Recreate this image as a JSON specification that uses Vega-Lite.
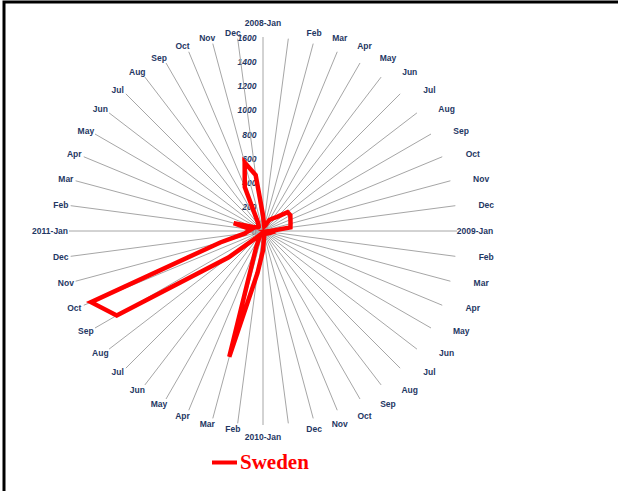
{
  "$schema": "https://vega.github.io/schema/vega-lite/v6.json",
  "width": 614,
  "height": 489,
  "autosize": {"type": "none"},
  "padding": {"left": 4, "top": 2, "right": 0, "bottom": 0},
  "background": "white",
  "config": {
    "view": {"stroke": "black", "strokeWidth": 3, "strokeDash": [614, 1103, 489, 1]},
    "axisY": {"domain": false, "ticks": false, "tickSize": 0, "grid": false, "labelPadding": 0, "offset": -252, "labelFont": "Liberation Sans", "labelFontStyle": "italic", "labelFontWeight": "bold", "labelFontSize": 8.5, "labelColor": "#1f3864", "labelBaseline": "middle", "title": null, "format": "d", "zindex": 1},
    "text": {"font": "Liberation Sans", "fontWeight": "bold", "fontSize": 8.5, "color": "#1f3864", "baseline": "middle"}
  },
  "data": {
    "values": [
      {"m": "2008-Jan", "i": 0, "v": 130},
      {"m": "Feb", "i": 1, "v": 60},
      {"m": "Mar", "i": 2, "v": 40},
      {"m": "Apr", "i": 3, "v": 50},
      {"m": "May", "i": 4, "v": 105},
      {"m": "Jun", "i": 5, "v": 130},
      {"m": "Jul", "i": 6, "v": 165},
      {"m": "Aug", "i": 7, "v": 255},
      {"m": "Sep", "i": 8, "v": 260},
      {"m": "Oct", "i": 9, "v": 245},
      {"m": "Nov", "i": 10, "v": 235},
      {"m": "Dec", "i": 11, "v": 228},
      {"m": "2009-Jan", "i": 12, "v": 60},
      {"m": "Feb", "i": 13, "v": 30},
      {"m": "Mar", "i": 14, "v": 60},
      {"m": "Apr", "i": 15, "v": 50},
      {"m": "May", "i": 16, "v": 40},
      {"m": "Jun", "i": 17, "v": 30},
      {"m": "Jul", "i": 18, "v": 30},
      {"m": "Aug", "i": 19, "v": 20},
      {"m": "Sep", "i": 20, "v": 20},
      {"m": "Oct", "i": 21, "v": 30},
      {"m": "Nov", "i": 22, "v": 40},
      {"m": "Dec", "i": 23, "v": 60},
      {"m": "2010-Jan", "i": 24, "v": 160},
      {"m": "Feb", "i": 25, "v": 350},
      {"m": "Mar", "i": 26, "v": 1075},
      {"m": "Apr", "i": 27, "v": 150},
      {"m": "May", "i": 28, "v": 60},
      {"m": "Jun", "i": 29, "v": 40},
      {"m": "Jul", "i": 30, "v": 80},
      {"m": "Aug", "i": 31, "v": 360},
      {"m": "Sep", "i": 32, "v": 1393},
      {"m": "Oct", "i": 33, "v": 1535},
      {"m": "Nov", "i": 34, "v": 365},
      {"m": "Dec", "i": 35, "v": 150},
      {"m": "2011-Jan", "i": 36, "v": 120},
      {"m": "Feb", "i": 37, "v": 100},
      {"m": "Mar", "i": 38, "v": 250},
      {"m": "Apr", "i": 39, "v": 80},
      {"m": "May", "i": 40, "v": 60},
      {"m": "Jun", "i": 41, "v": 50},
      {"m": "Jul", "i": 42, "v": 50},
      {"m": "Aug", "i": 43, "v": 60},
      {"m": "Sep", "i": 44, "v": 90},
      {"m": "Oct", "i": 45, "v": 393},
      {"m": "Nov", "i": 46, "v": 585},
      {"m": "Dec", "i": 47, "v": 465}
    ]
  },
  "transform": [
    {"calculate": "datum.i * PI / 24", "as": "a"},
    {"calculate": "datum.v * sin(datum.a)", "as": "x"},
    {"calculate": "datum.v * cos(datum.a)", "as": "y"},
    {"calculate": "1600 * sin(datum.a)", "as": "sx"},
    {"calculate": "1600 * cos(datum.a)", "as": "sy"},
    {"calculate": "1649 * sin(datum.a)", "as": "lx"},
    {"calculate": "1649 * cos(datum.a)", "as": "ly"}
  ],
  "layer": [
    {
      "mark": {"type": "rule", "color": "#a6a6a6", "strokeWidth": 1},
      "encoding": {
        "x": {"field": "sx", "type": "quantitative", "scale": {"domain": [-2136.1, 2927.8], "nice": false, "zero": false}, "axis": null},
        "y": {"field": "sy", "type": "quantitative", "scale": {"domain": [-2144.3, 1888.7], "nice": false, "zero": false},
              "axis": {"title": null, "values": [0, 200, 400, 600, 800, 1000, 1200, 1400, 1600]}},
        "x2": {"datum": 0},
        "y2": {"datum": 0}
      }
    },
    {
      "mark": {"type": "line", "interpolate": "linear-closed", "strokeWidth": 4.5, "strokeJoin": "miter"},
      "encoding": {
        "x": {"field": "x", "type": "quantitative", "axis": null},
        "y": {"field": "y", "type": "quantitative", "axis": {"title": null, "values": [0, 200, 400, 600, 800, 1000, 1200, 1400, 1600]}},
        "order": {"field": "i", "type": "quantitative"},
        "color": {"datum": "Sweden", "scale": {"range": ["#ff0000"]},
                  "legend": {"orient": "none", "legendX": 206, "legendY": 446, "title": null, "symbolType": "stroke", "symbolStrokeWidth": 4, "symbolSize": 625, "labelFont": "Liberation Serif", "labelFontWeight": "bold", "labelFontSize": 21, "labelColor": "#ff0000", "labelOffset": 1, "padding": 0}}
      }
    },
    {
      "transform": [{"filter": "datum.i > 0 && datum.i < 24 && datum.i != 12"}],
      "mark": {"type": "text", "dx": 25},
      "encoding": {"x": {"field": "lx", "type": "quantitative", "axis": null}, "y": {"field": "ly", "type": "quantitative", "axis": {"title": null, "values": [0, 200, 400, 600, 800, 1000, 1200, 1400, 1600]}}, "text": {"field": "m"}}
    },
    {
      "transform": [{"filter": "datum.i > 24 && datum.i != 36"}],
      "mark": {"type": "text", "dx": -4},
      "encoding": {"x": {"field": "lx", "type": "quantitative", "axis": null}, "y": {"field": "ly", "type": "quantitative", "axis": {"title": null, "values": [0, 200, 400, 600, 800, 1000, 1200, 1400, 1600]}}, "text": {"field": "m"}}
    },
    {
      "transform": [{"filter": "datum.i == 12"}],
      "mark": {"type": "text", "dx": 12},
      "encoding": {"x": {"field": "lx", "type": "quantitative", "axis": null}, "y": {"field": "ly", "type": "quantitative", "axis": {"title": null, "values": [0, 200, 400, 600, 800, 1000, 1200, 1400, 1600]}}, "text": {"field": "m"}}
    },
    {
      "transform": [{"filter": "datum.i == 36"}],
      "mark": {"type": "text", "dx": -13},
      "encoding": {"x": {"field": "lx", "type": "quantitative", "axis": null}, "y": {"field": "ly", "type": "quantitative", "axis": {"title": null, "values": [0, 200, 400, 600, 800, 1000, 1200, 1400, 1600]}}, "text": {"field": "m"}}
    },
    {
      "transform": [{"filter": "datum.i == 0"}],
      "mark": {"type": "text", "dy": -8},
      "encoding": {"x": {"field": "lx", "type": "quantitative", "axis": null}, "y": {"field": "ly", "type": "quantitative", "axis": {"title": null, "values": [0, 200, 400, 600, 800, 1000, 1200, 1400, 1600]}}, "text": {"field": "m"}}
    },
    {
      "transform": [{"filter": "datum.i == 24"}],
      "mark": {"type": "text", "dy": 6},
      "encoding": {"x": {"field": "lx", "type": "quantitative", "axis": null}, "y": {"field": "ly", "type": "quantitative", "axis": {"title": null, "values": [0, 200, 400, 600, 800, 1000, 1200, 1400, 1600]}}, "text": {"field": "m"}}
    }
  ]
}
